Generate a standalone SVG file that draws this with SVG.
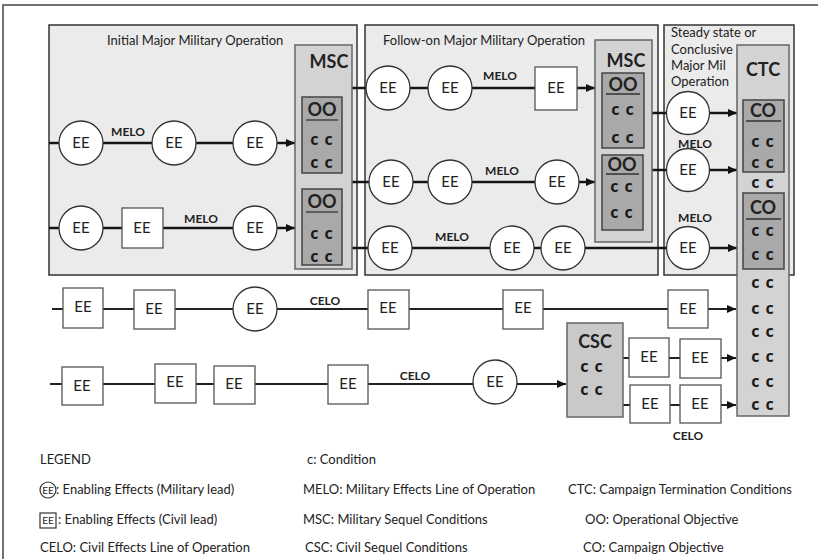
<svg xmlns="http://www.w3.org/2000/svg" width="818" height="559" viewBox="0 0 818 559">
<defs>
<marker id="ah" markerUnits="userSpaceOnUse" markerWidth="9" markerHeight="8" refX="9" refY="4" orient="auto">
<path d="M0,0 L9,4 L0,8 z" fill="#111"/>
</marker>
<style>
text{font-family:Lato,"Open Sans","Liberation Sans",sans-serif;fill:#222}
.frame{fill:none;stroke:#444;stroke-width:1.5}
.panel{fill:#ebebeb;stroke:#333;stroke-width:1.5}
.msc{fill:#d3d3d3;stroke:#666;stroke-width:1.5}
.oo{fill:#a9a9a9;stroke:#444;stroke-width:1.5}
.csc{fill:#c9c9c9;stroke:#666;stroke-width:1.5}
.circ{fill:#fff;stroke:#333;stroke-width:1.3}
.box{fill:#fff;stroke:#555;stroke-width:1.3}
.ln{stroke:#151515;stroke-width:2.5;fill:none}
.ln2{stroke:#222;stroke-width:2;fill:none}
.arr{marker-end:url(#ah)}
.ee{font-size:15px;text-anchor:middle}
.melo{font-size:12px;font-weight:bold;text-anchor:middle}
.ptitle{font-size:13px}
.big{font-size:18px;font-weight:bold;text-anchor:middle}
.cc{font-family:"Open Sans",Lato,sans-serif;font-size:16px;font-weight:bold;text-anchor:middle;letter-spacing:1px;fill:#1a1a1a}
.uline{stroke:#333;stroke-width:1.3}
.leg{font-size:13px}
</style>
</defs>

<rect class="frame" x="3" y="5" width="830" height="570"/>

<g id="panel-initial">
<rect class="panel" x="49" y="25" width="308" height="250"/>
<text class="ptitle" x="107" y="45">Initial Major Military Operation</text>
</g>
<g id="panel-followon">
<rect class="panel" x="365" y="25" width="293" height="250"/>
<text class="ptitle" x="383" y="45">Follow-on Major Military Operation</text>
</g>
<g id="panel-steady">
<rect class="panel" x="664" y="25" width="130" height="250"/>
<text class="ptitle" x="671" y="37">Steady state or</text>
<text class="ptitle" x="671" y="54">Conclusive</text>
<text class="ptitle" x="671" y="70">Major Mil</text>
<text class="ptitle" x="671" y="86">Operation</text>
</g>

<g id="connectors">
<line class="ln" x1="49" y1="143" x2="60" y2="143"/>
<line class="ln" x1="103" y1="143" x2="152" y2="143"/>
<line class="ln" x1="196" y1="143" x2="233" y2="143"/>
<line class="ln arr" x1="277" y1="143" x2="295" y2="143"/>
<line class="ln" x1="49" y1="228" x2="60" y2="228"/>
<line class="ln" x1="103" y1="228" x2="122" y2="228"/>
<line class="ln" x1="163" y1="228" x2="233" y2="228"/>
<line class="ln arr" x1="277" y1="228" x2="295" y2="228"/>
<line class="ln" x1="352" y1="88" x2="367" y2="88"/>
<line class="ln" x1="352" y1="182" x2="369" y2="182"/>
<line class="ln" x1="352" y1="248" x2="368" y2="248"/>
<line class="ln" x1="410" y1="88" x2="428" y2="88"/>
<line class="ln" x1="472" y1="88" x2="535" y2="88"/>
<line class="ln arr" x1="577" y1="88" x2="595" y2="88"/>
<line class="ln" x1="413" y1="182" x2="428" y2="182"/>
<line class="ln" x1="472" y1="182" x2="535" y2="182"/>
<line class="ln arr" x1="579" y1="182" x2="595" y2="182"/>
<line class="ln" x1="412" y1="248" x2="490" y2="248"/>
<line class="ln" x1="534" y1="248" x2="541" y2="248"/>
<line class="ln" x1="585" y1="248" x2="667" y2="248"/>
<line class="ln" x1="652" y1="113" x2="667" y2="113"/>
<line class="ln" x1="652" y1="170" x2="667" y2="170"/>
<line class="ln arr" x1="710" y1="113" x2="737" y2="113"/>
<line class="ln arr" x1="710" y1="170" x2="737" y2="170"/>
<line class="ln arr" x1="710" y1="248" x2="737" y2="248"/>
<line class="ln2" x1="52" y1="309" x2="63" y2="309"/>
<line class="ln2" x1="103" y1="309" x2="134" y2="309"/>
<line class="ln2" x1="175" y1="309" x2="233" y2="309"/>
<line class="ln2" x1="277" y1="309" x2="368" y2="309"/>
<line class="ln2" x1="409" y1="309" x2="503" y2="309"/>
<line class="ln2" x1="543" y1="309" x2="668" y2="309"/>
<line class="ln2 arr" x1="708" y1="309" x2="736" y2="309"/>
<line class="ln2" x1="50" y1="384" x2="62" y2="384"/>
<line class="ln2" x1="103" y1="384" x2="155" y2="384"/>
<line class="ln2" x1="196" y1="384" x2="214" y2="384"/>
<line class="ln2" x1="255" y1="384" x2="328" y2="384"/>
<line class="ln2" x1="368" y1="384" x2="473" y2="384"/>
<line class="ln2 arr" x1="517" y1="384" x2="566" y2="384"/>
<line class="ln2" x1="623" y1="358" x2="629" y2="358"/>
<line class="ln2" x1="669" y1="358" x2="680" y2="358"/>
<line class="ln2 arr" x1="721" y1="358" x2="736" y2="358"/>
<line class="ln2" x1="623" y1="405" x2="630" y2="405"/>
<line class="ln2" x1="670" y1="405" x2="680" y2="405"/>
<line class="ln2 arr" x1="721" y1="405" x2="736" y2="405"/>
</g>

<g id="line-labels">
<text class="melo" x="128" y="136">MELO</text>
<text class="melo" x="201" y="223">MELO</text>
<text class="melo" x="500" y="80">MELO</text>
<text class="melo" x="502" y="175">MELO</text>
<text class="melo" x="452" y="241">MELO</text>
<text class="melo" x="695" y="148">MELO</text>
<text class="melo" x="695" y="222">MELO</text>
<text class="melo" x="325" y="305">CELO</text>
<text class="melo" x="415" y="380">CELO</text>
<text class="melo" x="688" y="440">CELO</text>
</g>

<g id="msc1">
<rect class="msc" x="295" y="45" width="57" height="224"/>
<text class="big" x="329" y="68">MSC</text>
<rect class="oo" x="302" y="97" width="40" height="76"/>
<text class="big" x="322" y="116">OO</text>
<line class="uline" x1="306" y1="120" x2="338" y2="120"/>
<text class="cc" x="322" y="145">c c</text>
<text class="cc" x="322" y="168">c c</text>
<rect class="oo" x="302" y="189" width="40" height="76"/>
<text class="big" x="322" y="208">OO</text>
<line class="uline" x1="306" y1="212" x2="338" y2="212"/>
<text class="cc" x="322" y="239">c c</text>
<text class="cc" x="322" y="262">c c</text>
</g>

<g id="msc2">
<rect class="msc" x="595" y="40" width="57" height="202"/>
<text class="big" x="626" y="67">MSC</text>
<rect class="oo" x="602" y="73" width="42" height="75"/>
<text class="big" x="623" y="91">OO</text>
<line class="uline" x1="606" y1="94" x2="640" y2="94"/>
<text class="cc" x="623" y="115">c c</text>
<text class="cc" x="623" y="143">c c</text>
<rect class="oo" x="602" y="155" width="41" height="75"/>
<text class="big" x="622" y="171">OO</text>
<line class="uline" x1="606" y1="174" x2="639" y2="174"/>
<text class="cc" x="622" y="192">c c</text>
<text class="cc" x="622" y="218">c c</text>
</g>

<g id="ctc">
<rect class="msc" x="737" y="45" width="52" height="371"/>
<text class="big" x="763" y="76">CTC</text>
<rect class="oo" x="743" y="100" width="41" height="72"/>
<text class="big" x="763" y="117">CO</text>
<line class="uline" x1="746" y1="121" x2="781" y2="121"/>
<text class="cc" x="763" y="147">c c</text>
<text class="cc" x="763" y="168">c c</text>
<text class="cc" x="763" y="188">c c</text>
<rect class="oo" x="743" y="193" width="41" height="76"/>
<text class="big" x="763" y="214">CO</text>
<line class="uline" x1="746" y1="219" x2="781" y2="219"/>
<text class="cc" x="763" y="236">c c</text>
<text class="cc" x="763" y="260">c c</text>
<text class="cc" x="763" y="288">c c</text>
<text class="cc" x="763" y="314">c c</text>
<text class="cc" x="763" y="337">c c</text>
<text class="cc" x="763" y="362">c c</text>
<text class="cc" x="763" y="387">c c</text>
<text class="cc" x="763" y="410">c c</text>
</g>

<g id="csc">
<rect class="csc" x="567" y="323" width="56" height="94"/>
<text class="big" x="595" y="348">CSC</text>
<text class="cc" x="592" y="372">c c</text>
<text class="cc" x="592" y="395">c c</text>
</g>

<g id="p1-r1-ee1"><circle class="circ" cx="81" cy="143" r="22"/><text class="ee" x="81" y="148">EE</text></g>
<g id="p1-r1-ee2"><circle class="circ" cx="174" cy="143" r="22"/><text class="ee" x="174" y="148">EE</text></g>
<g id="p1-r1-ee3"><circle class="circ" cx="255" cy="143" r="22"/><text class="ee" x="255" y="148">EE</text></g>
<g id="p1-r2-ee1"><circle class="circ" cx="81" cy="228" r="22"/><text class="ee" x="81" y="233">EE</text></g>
<g id="p1-r2-ee2"><rect class="box" x="122" y="208" width="41" height="40"/><text class="ee" x="142" y="233">EE</text></g>
<g id="p1-r2-ee3"><circle class="circ" cx="255" cy="228" r="22"/><text class="ee" x="255" y="233">EE</text></g>

<g id="p2-rA-ee1"><circle class="circ" cx="388" cy="88" r="22"/><text class="ee" x="388" y="93">EE</text></g>
<g id="p2-rA-ee2"><circle class="circ" cx="450" cy="88" r="22"/><text class="ee" x="450" y="93">EE</text></g>
<g id="p2-rA-ee3"><rect class="box" x="535" y="67" width="42" height="43"/><text class="ee" x="556" y="93">EE</text></g>
<g id="p2-rB-ee1"><circle class="circ" cx="391" cy="182" r="22"/><text class="ee" x="391" y="187">EE</text></g>
<g id="p2-rB-ee2"><circle class="circ" cx="450" cy="182" r="22"/><text class="ee" x="450" y="187">EE</text></g>
<g id="p2-rB-ee3"><circle class="circ" cx="557" cy="182" r="22"/><text class="ee" x="557" y="187">EE</text></g>
<g id="p2-rC-ee1"><circle class="circ" cx="390" cy="248" r="22"/><text class="ee" x="390" y="253">EE</text></g>
<g id="p2-rC-ee2"><circle class="circ" cx="512" cy="248" r="22"/><text class="ee" x="512" y="253">EE</text></g>
<g id="p2-rC-ee3"><circle class="circ" cx="563" cy="248" r="22"/><text class="ee" x="563" y="253">EE</text></g>

<g id="p3-ee1"><circle class="circ" cx="688" cy="113" r="21.5"/><text class="ee" x="688" y="118">EE</text></g>
<g id="p3-ee2"><circle class="circ" cx="688" cy="170" r="21.5"/><text class="ee" x="688" y="175">EE</text></g>
<g id="p3-ee3"><circle class="circ" cx="688" cy="248" r="21.5"/><text class="ee" x="688" y="253">EE</text></g>

<g id="c1-ee1"><rect class="box" x="63" y="288" width="40" height="40"/><text class="ee" x="83" y="312">EE</text></g>
<g id="c1-ee2"><rect class="box" x="134" y="290" width="41" height="39"/><text class="ee" x="154" y="314">EE</text></g>
<g id="c1-ee3"><circle class="circ" cx="255" cy="309" r="22"/><text class="ee" x="255" y="314">EE</text></g>
<g id="c1-ee4"><rect class="box" x="368" y="290" width="41" height="39"/><text class="ee" x="388" y="313">EE</text></g>
<g id="c1-ee5"><rect class="box" x="503" y="290" width="40" height="39"/><text class="ee" x="523" y="313">EE</text></g>
<g id="c1-ee6"><rect class="box" x="668" y="290" width="40" height="38"/><text class="ee" x="688" y="314">EE</text></g>

<g id="c2-ee1"><rect class="box" x="62" y="367" width="41" height="38"/><text class="ee" x="82" y="391">EE</text></g>
<g id="c2-ee2"><rect class="box" x="155" y="364" width="41" height="39"/><text class="ee" x="175" y="387">EE</text></g>
<g id="c2-ee3"><rect class="box" x="214" y="366" width="41" height="38"/><text class="ee" x="234" y="389">EE</text></g>
<g id="c2-ee4"><rect class="box" x="328" y="365" width="40" height="39"/><text class="ee" x="348" y="389">EE</text></g>
<g id="c2-ee5"><circle class="circ" cx="495" cy="382" r="22"/><text class="ee" x="495" y="387">EE</text></g>

<g id="cs-ee1"><rect class="box" x="629" y="338" width="40" height="39"/><text class="ee" x="649" y="362">EE</text></g>
<g id="cs-ee2"><rect class="box" x="680" y="339" width="41" height="39"/><text class="ee" x="700" y="363">EE</text></g>
<g id="cs-ee3"><rect class="box" x="630" y="385" width="40" height="38"/><text class="ee" x="650" y="409">EE</text></g>
<g id="cs-ee4"><rect class="box" x="680" y="385" width="41" height="38"/><text class="ee" x="700" y="409">EE</text></g>

<g id="legend">
<text class="leg" x="40" y="464">LEGEND</text>
<text class="leg" x="307" y="464">c: Condition</text>
<circle cx="48" cy="490" r="8" fill="#fff" stroke="#333" stroke-width="1.2"/>
<text x="48" y="494" font-size="10" text-anchor="middle">EE</text>
<text class="leg" x="56" y="494">: Enabling Effects (Military lead)</text>
<text class="leg" x="303" y="494">MELO: Military Effects Line of Operation</text>
<text class="leg" x="568" y="494">CTC: Campaign Termination Conditions</text>
<rect x="40" y="513" width="16" height="15" fill="#fff" stroke="#333" stroke-width="1.2"/>
<text x="48" y="524" font-size="10" text-anchor="middle">EE</text>
<text class="leg" x="58" y="524">: Enabling Effects (Civil lead)</text>
<text class="leg" x="303" y="524">MSC: Military Sequel Conditions</text>
<text class="leg" x="585" y="524">OO: Operational Objective</text>
<text class="leg" x="40" y="552">CELO: Civil Effects Line of Operation</text>
<text class="leg" x="305" y="552">CSC: Civil Sequel Conditions</text>
<text class="leg" x="583" y="552">CO: Campaign Objective</text>
</g>
</svg>
